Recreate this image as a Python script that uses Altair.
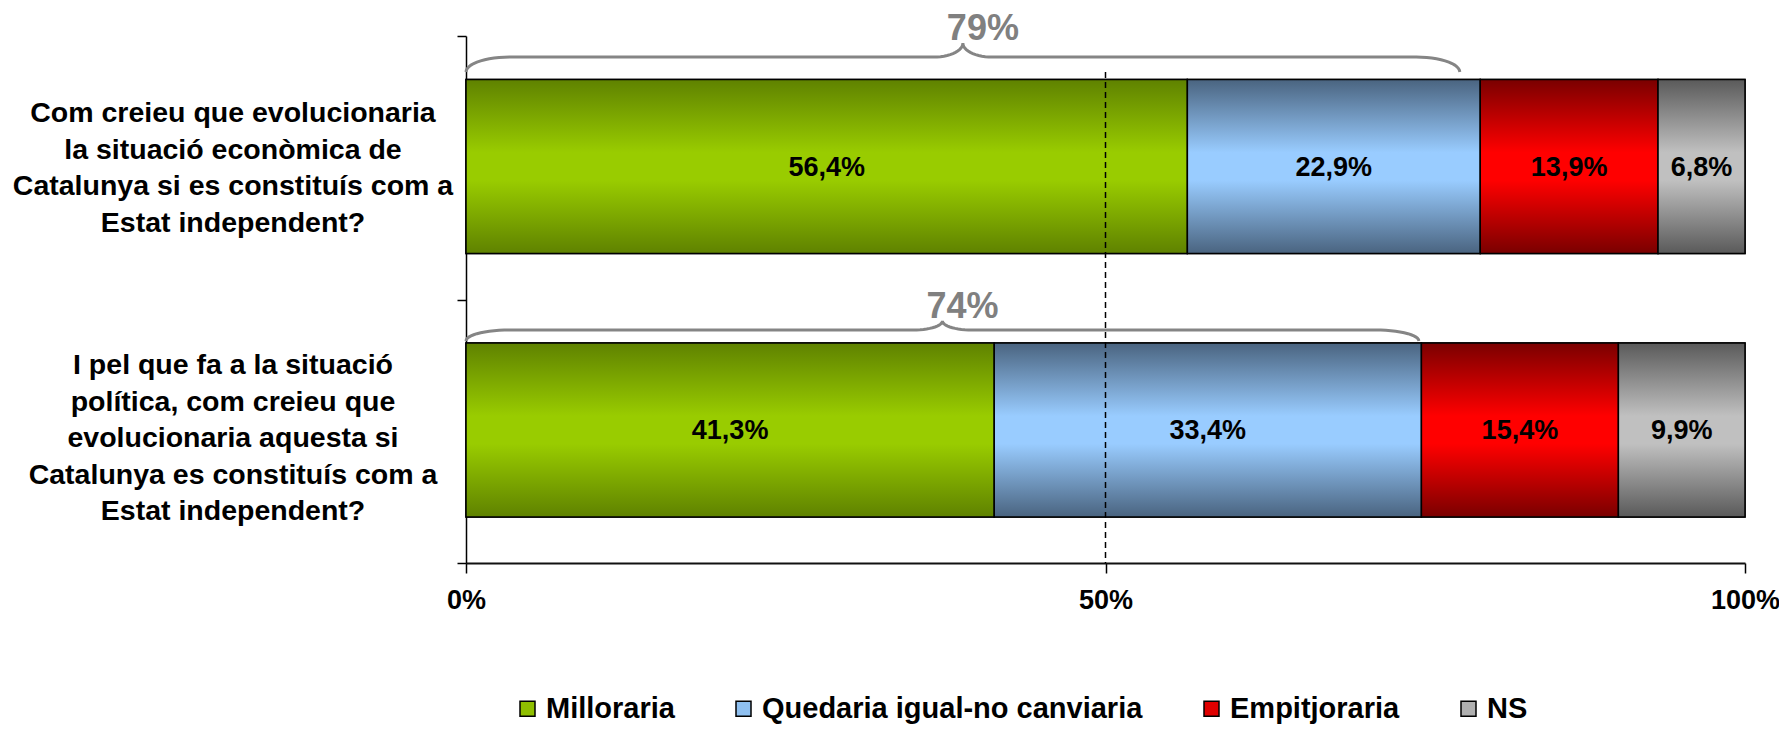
import altair as alt
import pandas as pd
import numpy as np

# ---------------- data ----------------
questions = [
    "Com creieu que evolucionaria\nla situació econòmica de\nCatalunya si es constituís com a\nEstat independent?",
    "I pel que fa a la situació\npolítica, com creieu que\nevolucionaria aquesta si\nCatalunya es constituís com a\nEstat independent?",
]
categories = ["Milloraria", "Quedaria igual-no canviaria", "Empitjoraria", "NS"]
values_q1 = [56.4, 22.9, 13.9, 6.8]
values_q2 = [41.3, 33.4, 15.4, 9.9]
brace_labels = ["79%", "74%"]
brace_end = [77.7, 74.5]
x_ticks = [0, 50, 100]

# ---------------- styling ----------------
FONT = "Liberation Sans"
dark = ["#5f8200", "#4a6480", "#7a0000", "#5a5a5a"]
light = ["#99cc00", "#99ccff", "#ff0000", "#c0c0c0"]
legend_colors = ["#8fbf00", "#8fc0f0", "#e00000", "#b0b0b0"]

PLOT_H = 527
BAND_PX = PLOT_H / 2
Q_LINE_H = 36.5
Q_NUDGE_PX = [0, 7]
BAR_TOP, BAR_BOT = 0.165, 0.825
# brace geometry (band units relative to question index)
brace_y_end = [0.137, 0.1575]
brace_y_mid = [0.080, 0.1157]
brace_y_peak = [0.027, 0.0816]
brace_lab_y = [0.015, 0.070]
RX_END, RX_PEAK = 3.4, 2.3

rows = []
for qi, vals in enumerate([values_q1, values_q2]):
    start = 0.0
    for ci, v in enumerate(vals):
        rows.append({
            "q": qi, "category": categories[ci], "start": start, "end": start + v,
            "mid": start + v / 2, "label": f"{v:.1f}".replace(".", ",") + "%",
            "y0": qi + BAR_TOP, "y1": qi + BAR_BOT, "yc": qi + 0.5,
        })
        start += v
bars = pd.DataFrame(rows)

brace_rows = []
t = np.linspace(0, np.pi / 2, 14)
for bi, xe in enumerate(brace_end):
    ye, ym, yp = bi + brace_y_end[bi], bi + brace_y_mid[bi], bi + brace_y_peak[bi]
    xm = xe / 2
    pts = []
    pts += list(zip(RX_END * (1 - np.cos(t)), ye - (ye - ym) * np.sin(t)))
    pts += list(zip(xm - RX_PEAK * (1 - np.sin(t)), ym - (ym - yp) * (1 - np.cos(t))))
    pts += list(zip(xm + RX_PEAK * (1 - np.sin(t[::-1])), ym - (ym - yp) * (1 - np.cos(t[::-1]))))
    pts += list(zip(xe - RX_END * (1 - np.cos(t[::-1])), ye - (ye - ym) * np.sin(t[::-1])))
    for k, (px, py) in enumerate(pts):
        brace_rows.append({"b": bi, "o": k, "x": px, "y": py})
braces = pd.DataFrame(brace_rows)
brace_text = pd.DataFrame({
    "x": [e / 2 for e in brace_end],
    "y": [i + brace_lab_y[i] for i in range(len(brace_end))],
    "label": brace_labels,
})
qdf = pd.DataFrame({
    "q": questions,
    "yt": [i + 0.5 + (Q_NUDGE_PX[i] - (q.count("\n") / 2) * Q_LINE_H) / BAND_PX
           for i, q in enumerate(questions)],
})

xscale = alt.Scale(domain=[0, 100], nice=False, zero=False)
yscale = alt.Scale(domain=[0, 2], reverse=True, nice=False, zero=False)


def X(field, axis=False):
    if axis:
        return alt.X(field, type="quantitative", scale=xscale, title="",
                     axis=alt.Axis(values=x_ticks, labelExpr="datum.value + '%'", grid=False,
                                   tickSize=10, tickColor="black", tickWidth=1.5,
                                   domainColor="#111111", domainWidth=2, labelFlush=False,
                                   labelFont=FONT, labelFontSize=27, labelFontWeight="bold",
                                   labelColor="black", labelPadding=14))
    return alt.X(field, type="quantitative", scale=xscale, title="")


def Y(field, axis=False):
    if axis:
        return alt.Y(field, type="quantitative", scale=yscale, title="",
                     axis=alt.Axis(values=[0, 1, 2], labels=False, grid=False, tickSize=9,
                                   tickColor="black", tickWidth=1.5, domainColor="black",
                                   domainWidth=1.5))
    return alt.Y(field, type="quantitative", scale=yscale, title="")


legend_layer = alt.Chart(bars).mark_rect(stroke="black", strokeWidth=1.5).encode(
    x=X("start", axis=True), x2="end", y=Y("y0", axis=True), y2="y1",
    color=alt.Color("category:N",
                    scale=alt.Scale(domain=categories, range=legend_colors),
                    legend=alt.Legend(orient="none", legendX=47, legendY=658,
                                      direction="horizontal", title=None,
                                      symbolType="square", symbolSize=225,
                                      symbolStrokeColor="black", symbolStrokeWidth=1.5,
                                      labelFont=FONT, labelFontSize=29, labelFontWeight="bold",
                                      labelColor="black", labelOffset=4, columnPadding=54,
                                      labelLimit=600)),
)

grad_layers = []
for ci, cat in enumerate(categories):
    g = alt.Gradient(gradient="linear", x1=0, x2=0, y1=0, y2=1, stops=[
        alt.GradientStop(color=dark[ci], offset=0),
        alt.GradientStop(color=light[ci], offset=0.42),
        alt.GradientStop(color=light[ci], offset=0.58),
        alt.GradientStop(color=dark[ci], offset=1),
    ])
    grad_layers.append(
        alt.Chart(bars).transform_filter(alt.datum.category == cat)
        .mark_rect(fill=g, stroke="black", strokeWidth=1.5)
        .encode(x=X("start"), x2="end", y=Y("y0"), y2="y1")
    )

rule = alt.Chart(pd.DataFrame({"x": [50], "y": [0.137], "y2": [2]})).mark_rule(
    color="black", strokeDash=[6, 4], strokeWidth=1.5
).encode(x=X("x"), y=Y("y"), y2="y2")

brace_layer = alt.Chart(braces).mark_line(color="#858585", strokeWidth=3).encode(
    x=X("x"), y=Y("y"), detail="b:N", order="o:Q"
)
brace_lab = alt.Chart(brace_text).mark_text(
    font=FONT, fontSize=36, fontWeight="bold", color="#808080", baseline="alphabetic",
    align="center", dx=20
).encode(x=X("x"), y=Y("y"), text="label:N")

bar_text = alt.Chart(bars).mark_text(
    font=FONT, fontSize=27, fontWeight="bold", color="black", baseline="middle", align="center"
).encode(x=X("mid"), y=Y("yc"), text="label:N")

q_text = alt.Chart(qdf).mark_text(
    font=FONT, fontSize=28.5, fontWeight="bold", color="black", baseline="middle",
    align="center", lineBreak="\n", lineHeight=Q_LINE_H
).encode(x=alt.value(-233), y=Y("yt"), text="q:N")

chart = alt.layer(legend_layer, *grad_layers, rule, brace_layer, brace_lab, bar_text, q_text).properties(
    width=1279, height=PLOT_H,
    autosize=alt.AutoSizeParams(type="none"),
    padding={"left": 458, "top": 28, "right": 34, "bottom": 162},
).configure_view(strokeWidth=0)

chart.save("out.html", embed_options={"renderer": "svg", "actions": False})
